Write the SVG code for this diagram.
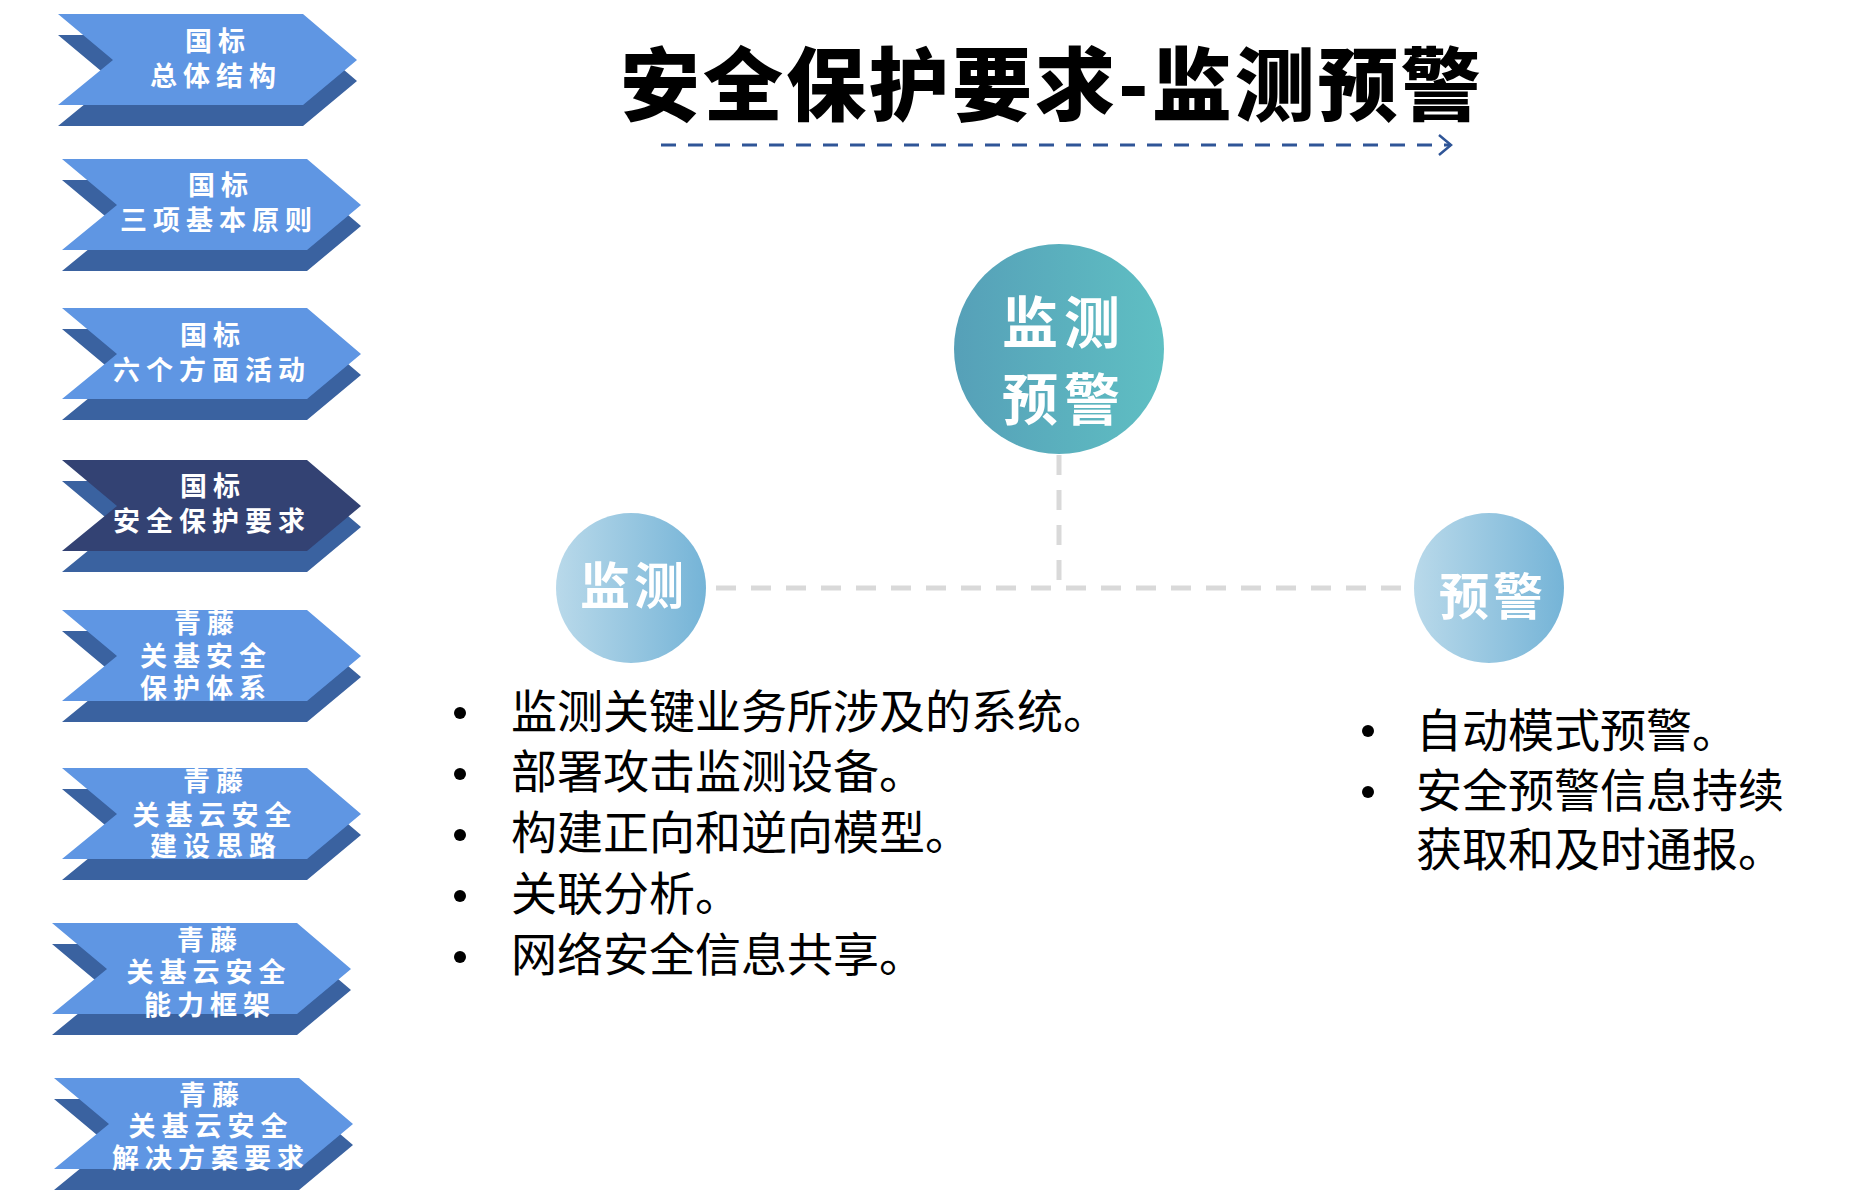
<svg xmlns="http://www.w3.org/2000/svg" xmlns:xlink="http://www.w3.org/1999/xlink" width="1850" height="1190" viewBox="0 0 1850 1190">
<style>
.fg{fill:#5F96E3}
.fgd{fill:#334273}
.sh{fill:#3A62A0}
.lbl{font-family:"Noto Sans CJK SC","Noto Sans",sans-serif;font-weight:700;font-size:27px;letter-spacing:6px;fill:#FFFFFF;text-anchor:middle}
.title{font-family:"Noto Sans CJK SC","Noto Sans",sans-serif;font-weight:900;font-size:80px;letter-spacing:3px;fill:#000000}
.circ{font-family:"Noto Sans CJK SC","Noto Sans",sans-serif;font-weight:700;fill:#FFFFFF;text-anchor:middle}
.body{font-family:"Noto Sans CJK SC","Noto Sans",sans-serif;font-weight:400;font-size:46px;fill:#000000}
.dash{fill:none;stroke:#D9D9D9;stroke-width:5;stroke-dasharray:20 15}
.bul{fill:#000000}
</style>
<defs>
<path id="chev" d="M0,0 L245,0 L299,46 L245,91 L0,91 L55,46 Z"/>
<linearGradient id="gBig" x1="0" y1="0" x2="1" y2="0">
<stop offset="0" stop-color="#56A0B8"/>
<stop offset="1" stop-color="#5FBFC3"/>
</linearGradient>
<linearGradient id="gSmall" x1="0" y1="0" x2="1" y2="0">
<stop offset="0" stop-color="#B9D9EA"/>
<stop offset="1" stop-color="#75B4D7"/>
</linearGradient>
<marker id="open" markerUnits="userSpaceOnUse" markerWidth="16" markerHeight="24" refX="13" refY="11" orient="auto">
<path d="M1,1 L13,11 L1,21" fill="none" stroke="#2F5597" stroke-width="2.5"/>
</marker>
</defs>

<g id="title">
<text class="title" x="620" y="114">安全保护要求-监测预警</text>
<path d="M661,145 H1451" fill="none" stroke="#2F5597" stroke-width="3" stroke-dasharray="15 12" marker-end="url(#open)"/>
</g>

<g id="n1">
<use xlink:href="#chev" class="sh" x="58" y="35"/>
<use xlink:href="#chev" class="fg" x="58" y="14"/>
<text class="lbl" x="218" y="51">国标</text>
<text class="lbl" x="216" y="86">总体结构</text>
</g>
<g id="n2">
<use xlink:href="#chev" class="sh" x="62" y="180"/>
<use xlink:href="#chev" class="fg" x="62" y="159"/>
<text class="lbl" x="221" y="195">国标</text>
<text class="lbl" x="219" y="230">三项基本原则</text>
</g>
<g id="n3">
<use xlink:href="#chev" class="sh" x="62" y="329"/>
<use xlink:href="#chev" class="fg" x="62" y="308"/>
<text class="lbl" x="213" y="345">国标</text>
<text class="lbl" x="212" y="380">六个方面活动</text>
</g>
<g id="n4">
<use xlink:href="#chev" class="sh" x="62" y="481"/>
<use xlink:href="#chev" class="fgd" x="62" y="460"/>
<text class="lbl" x="213" y="496">国标</text>
<text class="lbl" x="212" y="531">安全保护要求</text>
</g>
<g id="n5">
<use xlink:href="#chev" class="sh" x="62" y="631"/>
<use xlink:href="#chev" class="fg" x="62" y="610"/>
<text class="lbl" x="207" y="633">青藤</text>
<text class="lbl" x="206" y="666">关基安全</text>
<text class="lbl" x="206" y="698">保护体系</text>
</g>
<g id="n6">
<use xlink:href="#chev" class="sh" x="62" y="789"/>
<use xlink:href="#chev" class="fg" x="62" y="768"/>
<text class="lbl" x="216" y="791">青藤</text>
<text class="lbl" x="215" y="825">关基云安全</text>
<text class="lbl" x="216" y="856">建设思路</text>
</g>
<g id="n7">
<use xlink:href="#chev" class="sh" x="52" y="944"/>
<use xlink:href="#chev" class="fg" x="52" y="923"/>
<text class="lbl" x="210" y="950">青藤</text>
<text class="lbl" x="209" y="982">关基云安全</text>
<text class="lbl" x="210" y="1015">能力框架</text>
</g>
<g id="n8">
<use xlink:href="#chev" class="sh" x="54" y="1099"/>
<use xlink:href="#chev" class="fg" x="54" y="1078"/>
<text class="lbl" x="212" y="1105">青藤</text>
<text class="lbl" x="211" y="1136">关基云安全</text>
<text class="lbl" x="211" y="1168">解决方案要求</text>
</g>

<g id="connectors">
<path class="dash" d="M1059,455 V588"/>
<path class="dash" d="M716,588 H1414"/>
</g>

<g id="center">
<circle cx="1059" cy="349" r="105" fill="url(#gBig)"/>
<text class="circ" x="1064" y="343" font-size="56" letter-spacing="6">监测</text>
<text class="circ" x="1064" y="420" font-size="56" letter-spacing="6">预警</text>
</g>
<g id="monitor">
<circle cx="631" cy="588" r="75" fill="url(#gSmall)"/>
<text class="circ" x="634" y="604" font-size="50" letter-spacing="4">监测</text>
</g>
<g id="warn">
<circle cx="1489" cy="588" r="75" fill="url(#gSmall)"/>
<text class="circ" x="1493" y="615" font-size="50" letter-spacing="4">预警</text>
</g>

<g id="list-monitor">
<circle class="bul" cx="460" cy="713" r="6"/>
<circle class="bul" cx="460" cy="774" r="6"/>
<circle class="bul" cx="460" cy="835" r="6"/>
<circle class="bul" cx="460" cy="896" r="6"/>
<circle class="bul" cx="460" cy="957" r="6"/>
<text class="body" x="511" y="728">监测关键业务所涉及的系统。</text>
<text class="body" x="511" y="788">部署攻击监测设备。</text>
<text class="body" x="511" y="849">构建正向和逆向模型。</text>
<text class="body" x="511" y="910">关联分析。</text>
<text class="body" x="511" y="971">网络安全信息共享。</text>
</g>
<g id="list-warn">
<circle class="bul" cx="1368" cy="731" r="6"/>
<circle class="bul" cx="1368" cy="792" r="6"/>
<text class="body" x="1416" y="747">自动模式预警。</text>
<text class="body" x="1416" y="807">安全预警信息持续</text>
<text class="body" x="1416" y="866">获取和及时通报。</text>
</g>
</svg>
